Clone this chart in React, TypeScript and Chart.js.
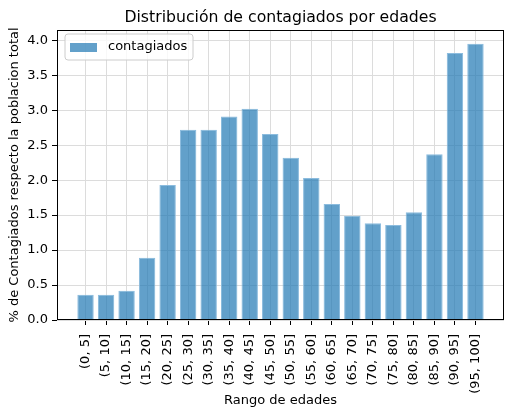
import React, { useEffect, useRef } from "react";
import { Chart, registerables } from "chart.js";

Chart.register(...registerables);

const categories: string[] = [
  "(0, 5]", "(5, 10]", "(10, 15]", "(15, 20]", "(20, 25]", "(25, 30]", "(30, 35]",
  "(35, 40]", "(40, 45]", "(45, 50]", "(50, 55]", "(55, 60]", "(60, 65]", "(65, 70]",
  "(70, 75]", "(75, 80]", "(80, 85]", "(85, 90]", "(90, 95]", "(95, 100]",
];

const contagiados: number[] = [
  0.36, 0.36, 0.42, 0.89, 1.93, 2.72, 2.72, 2.91, 3.02, 2.66,
  2.32, 2.03, 1.66, 1.49, 1.385, 1.357, 1.54, 2.37, 3.82, 3.95,
];

const yTicks: number[] = [0, 0.5, 1, 1.5, 2, 2.5, 3, 3.5, 4];

const TITLE = "Distribución de contagiados por edades";
const X_TITLE = "Rango de edades";
const Y_TITLE = "% de Contagiados respecto la poblacion total";
const SERIES_LABEL = "contagiados";

const FONT = "'DejaVu Sans', sans-serif";
const BAR_COLOR = "rgba(31,119,180,0.7)";

const framePlugin = {
  id: "frameAndExtras",
  afterDraw(chart: any) {
    const { ctx, chartArea } = chart;
    const { left, right, top, bottom } = chartArea;
    ctx.save();
    // title
    ctx.fillStyle = "#000";
    ctx.font = `15.7px ${FONT}`;
    ctx.textAlign = "center";
    ctx.textBaseline = "alphabetic";
    ctx.fillText(TITLE, (left + right) / 2, 22);
    // frame
    ctx.strokeStyle = "#000";
    ctx.lineWidth = 1;
    ctx.strokeRect(Math.round(left) + 0.5, Math.round(top) + 0.5, Math.round(right - left) - 1, Math.round(bottom - top) - 1);
    // legend
    const bx = left + 8, by = top + 4, bw = 128, bh = 26, r = 3;
    ctx.beginPath();
    ctx.moveTo(bx + r, by);
    ctx.lineTo(bx + bw - r, by);
    ctx.arcTo(bx + bw, by, bx + bw, by + r, r);
    ctx.lineTo(bx + bw, by + bh - r);
    ctx.arcTo(bx + bw, by + bh, bx + bw - r, by + bh, r);
    ctx.lineTo(bx + r, by + bh);
    ctx.arcTo(bx, by + bh, bx, by + bh - r, r);
    ctx.lineTo(bx, by + r);
    ctx.arcTo(bx, by, bx + r, by, r);
    ctx.closePath();
    ctx.fillStyle = "rgba(255,255,255,0.8)";
    ctx.fill();
    ctx.strokeStyle = "#cccccc";
    ctx.stroke();
    ctx.fillStyle = BAR_COLOR;
    ctx.fillRect(bx + 5, by + 9, 27, 9);
    ctx.fillStyle = "#000";
    ctx.font = `13px ${FONT}`;
    ctx.textAlign = "left";
    ctx.textBaseline = "middle";
    ctx.fillText(chart.data.datasets[0].label, bx + 43, by + 13);
    ctx.restore();
  },
};

export default function App() {
  const canvasRef = useRef<HTMLCanvasElement | null>(null);

  useEffect(() => {
    document.body.style.margin = "0";
    const canvas = canvasRef.current;
    if (!canvas) return;
    const chart = new Chart(canvas, {
      type: "bar",
      data: {
        datasets: [
          {
            label: SERIES_LABEL,
            data: contagiados.map((v, i) => ({ x: i, y: v })),
            backgroundColor: BAR_COLOR,
            borderColor: "rgba(140,188,222,1)",
            borderWidth: 1,
            barPercentage: 0.8,
            categoryPercentage: 1.0,
          },
        ],
      },
      options: {
        responsive: false,
        animation: false,
        layout: { padding: { left: 0, right: 10, top: 30, bottom: 0 } },
        plugins: {
          legend: { display: false },
          title: { display: false },
          tooltip: { enabled: false },
        },
        scales: {
          x: {
            type: "linear",
            min: -1.39,
            max: 20.39,
            offset: false,
            afterBuildTicks: (scale: any) => {
              scale.ticks = categories.map((_, i) => ({ value: i }));
            },
            afterFit: (scale: any) => {
              scale.height = 99;
            },
            ticks: {
              autoSkip: false,
              maxRotation: 90,
              minRotation: 90,
              padding: 9,
              color: "#000",
              font: { family: FONT, size: 13 },
              callback: (v: any) => categories[v as number] ?? "",
            },
            grid: { offset: false, color: "#dcdcdc", lineWidth: 1, tickColor: "#000", tickLength: 5 },
            border: { display: false },
            title: {
              display: true,
              text: X_TITLE,
              color: "#000",
              font: { family: FONT, size: 13 },
              padding: { top: 0, bottom: 11 },
            },
          },
          y: {
            type: "linear",
            min: 0,
            max: 4.1475,
            afterBuildTicks: (scale: any) => {
              scale.ticks = yTicks.map((v) => ({ value: v }));
            },
            afterFit: (scale: any) => {
              scale.width = 57;
            },
            ticks: {
              padding: 4,
              color: "#000",
              font: { family: FONT, size: 13 },
              callback: (v: any) => Number(v).toFixed(1),
            },
            grid: { color: "#dcdcdc", lineWidth: 1, tickColor: "#000", tickLength: 5 },
            border: { display: false },
            title: {
              display: true,
              text: Y_TITLE,
              color: "#000",
              font: { family: FONT, size: 13 },
              padding: { top: 7, bottom: 0 },
            },
          },
        },
      },
      plugins: [framePlugin],
    });
    return () => chart.destroy();
  }, []);

  return (
    <div style={{ width: 514, height: 419 }}>
      <canvas ref={canvasRef} width={514} height={419} style={{ display: "block" }} />
    </div>
  );
}
